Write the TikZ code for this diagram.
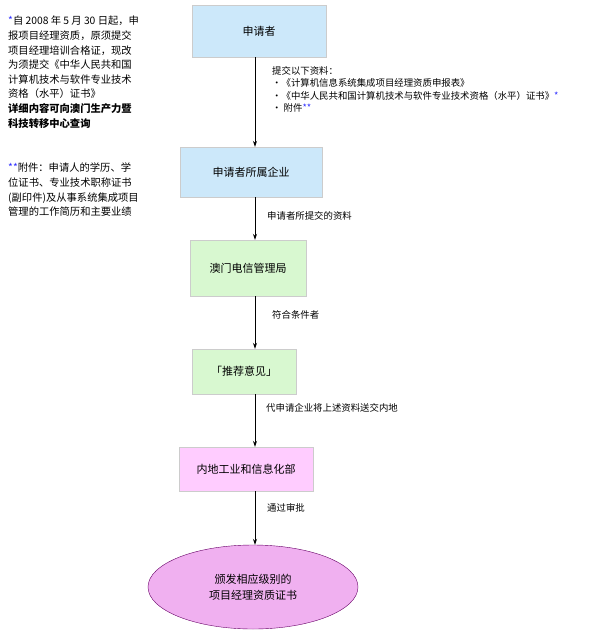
\documentclass[tikz,border=0pt]{standalone}
\usepackage{fontspec}
\setmainfont{Noto Sans CJK SC}
\usetikzlibrary{shapes.geometric,arrows.meta}
\definecolor{bl}{HTML}{CCE8FA}
\definecolor{gr}{HTML}{D8F8D0}
\definecolor{pk}{HTML}{FFCCFF}
\definecolor{vi}{HTML}{F0B0F0}
\definecolor{st}{HTML}{3333FF}
\tikzset{box/.style={draw=gray!40,minimum height=#1,inner sep=0pt,font=\fontsize{11}{13}\selectfont},
lab/.style={anchor=north west,font=\fontsize{9.4}{12.5}\selectfont,align=left,inner sep=0pt},
arr/.style={-{Stealth[length=6pt,width=4pt]},thick}}
\begin{document}
\begin{tikzpicture}[x=1pt,y=-1pt]
\useasboundingbox (0,0) rectangle (600,642);
\node[box=52pt,fill=bl,minimum width=134pt] (a) at (259,31) {申请者};
\node[box=50pt,fill=bl,minimum width=142pt] (b) at (251,172) {申请者所属企业};
\node[box=56pt,fill=gr,minimum width=116pt] (c) at (248,268) {澳门电信管理局};
\node[box=45pt,fill=gr,minimum width=104pt] (d) at (244,371.5) {「推荐意见」};
\node[box=44pt,fill=pk,minimum width=134pt] (e) at (246,469) {内地工业和信息化部};
\node[ellipse,draw=violet!80!black,fill=vi,minimum width=210pt,minimum height=84pt,align=center,font=\fontsize{11}{16}\selectfont] (f) at (253,587) {颁发相应级别的\\项目经理资质证书};
\draw[arr] (a.south -| 255,0) -- (b.north -| 255,0);
\draw[arr] (b.south -| 255,0) -- (c.north -| 255,0);
\draw[arr] (c.south -| 255,0) -- (d.north -| 255,0);
\draw[arr] (d.south -| 255,0) -- (e.north -| 255,0);
\draw[arr] (e.south -| 255,0) -- (f.north -| 255,0);
\node[lab] (l1) at (272,66) {提交以下资料：\\·《计算机信息系统集成项目经理资质申报表》\\·《中华人民共和国计算机技术与软件专业技术资格（水平）证书》{\color{st}*}\\· 附件{\color{st}**}};
\node[lab] (l2) at (267,211) {申请者所提交的资料};
\node[lab] (l3) at (272,310) {符合条件者};
\node[lab] (l4) at (266,403) {代申请企业将上述资料送交内地};
\node[lab] (l5) at (267,503) {通过审批};
\node[lab,font=\fontsize{10.3}{14.6}\selectfont] (s1) at (8,16) {{\color{st}*}自 2008 年 5 月 30 日起，申\\报项目经理资质，原须提交\\项目经理培训合格证，现改\\为须提交《中华人民共和国\\计算机技术与软件专业技术\\资格（水平）证书》\\\textbf{详细内容可向澳门生产力暨}\\\textbf{科技转移中心查询}};
\node[lab,font=\fontsize{10.3}{14.6}\selectfont] (s2) at (8,163) {{\color{st}**}附件：申请人的学历、学\\位证书、专业技术职称证书\\(副印件)及从事系统集成项目\\管理的工作简历和主要业绩};
\end{tikzpicture}
\end{document}
